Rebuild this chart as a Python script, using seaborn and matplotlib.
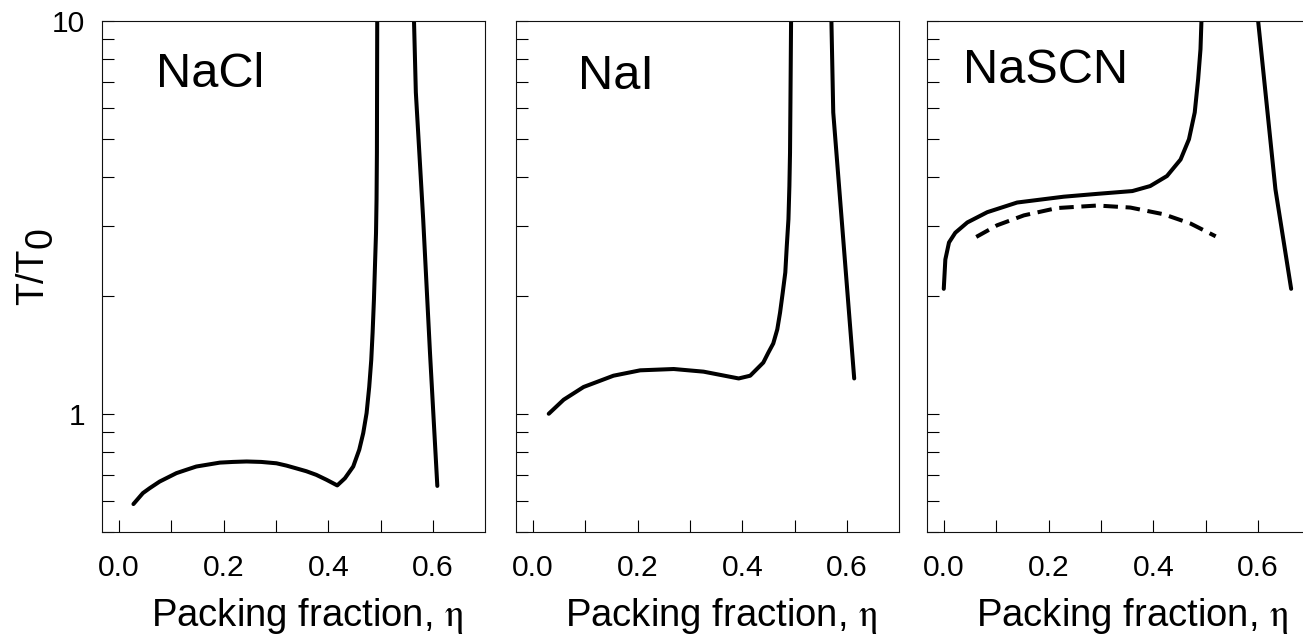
import numpy as np
import seaborn as sns
import matplotlib
matplotlib.use("Agg")
import matplotlib.pyplot as plt
from matplotlib.ticker import LogLocator, MultipleLocator, NullFormatter, FuncFormatter, FormatStrFormatter

# NaCl: fluid branch (with kink) going into the divergence, and the right branch
nacl_eta = [0.028, 0.046, 0.0587, 0.078, 0.110, 0.129, 0.148, 0.193, 0.218, 0.244, 0.272,
            0.301, 0.320, 0.339, 0.358, 0.377, 0.3966, 0.417,
            0.4316, 0.4475, 0.459, 0.4666, 0.473, 0.478, 0.4819, 0.4845, 0.487,
            0.489, 0.491, 0.492, 0.4927, 0.4933]
nacl_T = [0.589, 0.628, 0.646, 0.672, 0.706, 0.720, 0.734, 0.751, 0.754, 0.756, 0.754,
          0.748, 0.738, 0.726, 0.714, 0.699, 0.679, 0.657,
          0.685, 0.734, 0.810, 0.893, 1.004, 1.17, 1.37, 1.61, 1.95,
          2.38, 2.89, 3.51, 4.62, 10.0]
nacl_right_eta = [0.5635, 0.567, 0.581, 0.594, 0.608]
nacl_right_T = [10.0, 6.58, 3.13, 1.43, 0.655]

# NaI
nai_eta = [0.0305, 0.059, 0.097, 0.154, 0.205, 0.269, 0.326, 0.393, 0.415,
           0.440, 0.4495, 0.459, 0.4667, 0.472, 0.477, 0.482, 0.4848, 0.488,
           0.4898, 0.491, 0.4918, 0.493]
nai_T = [1.0, 1.086, 1.17, 1.25, 1.29, 1.30, 1.28, 1.23, 1.25,
         1.35, 1.43, 1.51, 1.64, 1.81, 2.03, 2.29, 2.67, 3.13,
         3.80, 4.62, 6.2, 10.0]
nai_right_eta = [0.570, 0.5735, 0.6135]
nai_right_T = [10.0, 5.85, 1.23]

# NaSCN: solid, dashed and right branch
nascn_eta = [0.0, 0.003, 0.010, 0.022, 0.045, 0.083, 0.140, 0.229, 0.293, 0.360,
             0.394, 0.426, 0.452, 0.468, 0.479, 0.4855, 0.490, 0.4918]
nascn_T = [2.08, 2.47, 2.73, 2.89, 3.07, 3.26, 3.45, 3.57, 3.63, 3.69,
           3.80, 4.03, 4.44, 5.0, 5.85, 7.11, 8.48, 10.0]
nascn_dash_eta = [0.062, 0.102, 0.153, 0.216, 0.293, 0.356, 0.420, 0.471, 0.519]
nascn_dash_T = [2.82, 3.02, 3.20, 3.34, 3.39, 3.35, 3.22, 3.05, 2.83]
nascn_right_eta = [0.600, 0.633, 0.663]
nascn_right_T = [10.0, 3.73, 2.08]

salts = ["NaCl", "NaI", "NaSCN"]
name_pos = [(0.141, 0.870), (0.162, 0.866), (0.094, 0.878)]

sns.set_style("ticks", {"text.color": "black", "axes.labelcolor": "black",
                        "xtick.color": "black", "ytick.color": "black",
                        "axes.edgecolor": "black"})
plt.rcParams["font.family"] = ["Liberation Sans", "DejaVu Sans"]
plt.rcParams["mathtext.fontset"] = "stix"

fig = plt.figure(figsize=(13.03, 6.36), dpi=100)
W, H = 1303, 636
lefts = [102, 516, 927]
axes = [fig.add_axes([l / W, 104 / H, 383 / W, 511 / H]) for l in lefts]

lw = 2.9
curves = [
    [(nacl_eta, nacl_T, "-"), (nacl_right_eta, nacl_right_T, "-")],
    [(nai_eta, nai_T, "-"), (nai_right_eta, nai_right_T, "-")],
    [(nascn_eta, nascn_T, "-"), (nascn_dash_eta, nascn_dash_T, "--"),
     (nascn_right_eta, nascn_right_T, "-")],
]

for i, ax in enumerate(axes):
    ax.set_yscale("log")
    for xs, ys, ls in curves[i]:
        style = "-" if ls == "-" else (0, (3.6, 1.9))
        sns.lineplot(x=np.array(xs), y=np.array(ys), ax=ax, sort=False, estimator=None,
                     color="black", linewidth=lw, linestyle=style,
                     solid_capstyle="round", solid_joinstyle="round")

    ax.set_xlim(-0.032, 0.699)
    ax.set_ylim(0.5, 10)
    ax.xaxis.set_major_locator(MultipleLocator(0.2))
    ax.xaxis.set_minor_locator(MultipleLocator(0.1))
    ax.xaxis.set_major_formatter(FormatStrFormatter("%.1f"))
    ax.yaxis.set_major_locator(LogLocator(base=10))
    ax.yaxis.set_minor_locator(LogLocator(base=10, subs=np.arange(2, 10)))
    ax.yaxis.set_minor_formatter(NullFormatter())
    ax.yaxis.set_major_formatter(FuncFormatter(lambda v, p: f"{v:g}"))
    ax.tick_params(axis="both", which="both", direction="in", length=8.6, width=0.8,
                   top=False, right=False, labelsize=21.6, colors="black")
    ax.tick_params(axis="x", pad=16)
    ax.tick_params(axis="y", pad=12)
    for sp in ax.spines.values():
        sp.set_linewidth(0.8)
        sp.set_color("#111111")
    if i > 0:
        ax.tick_params(axis="y", labelleft=False)
        ax.set_ylabel("")

    ax.set_xlabel("Packing fraction, $\\mathrm{\\eta}$", fontsize=27.5, labelpad=10)
    ax.xaxis.label.set_x(0.535)
    ax.text(name_pos[i][0], name_pos[i][1], salts[i], transform=ax.transAxes,
            fontsize=35, ha="left", va="baseline")

ylab = axes[0].set_ylabel("T/T", fontsize=27, labelpad=1)
axes[0].annotate("0", xy=(0, 1), xycoords=ylab, xytext=(9, 0), textcoords="offset pixels",
                 rotation=90, ha="left", va="bottom", fontsize=27, annotation_clip=False)

fig.savefig("out.png", dpi=100)
